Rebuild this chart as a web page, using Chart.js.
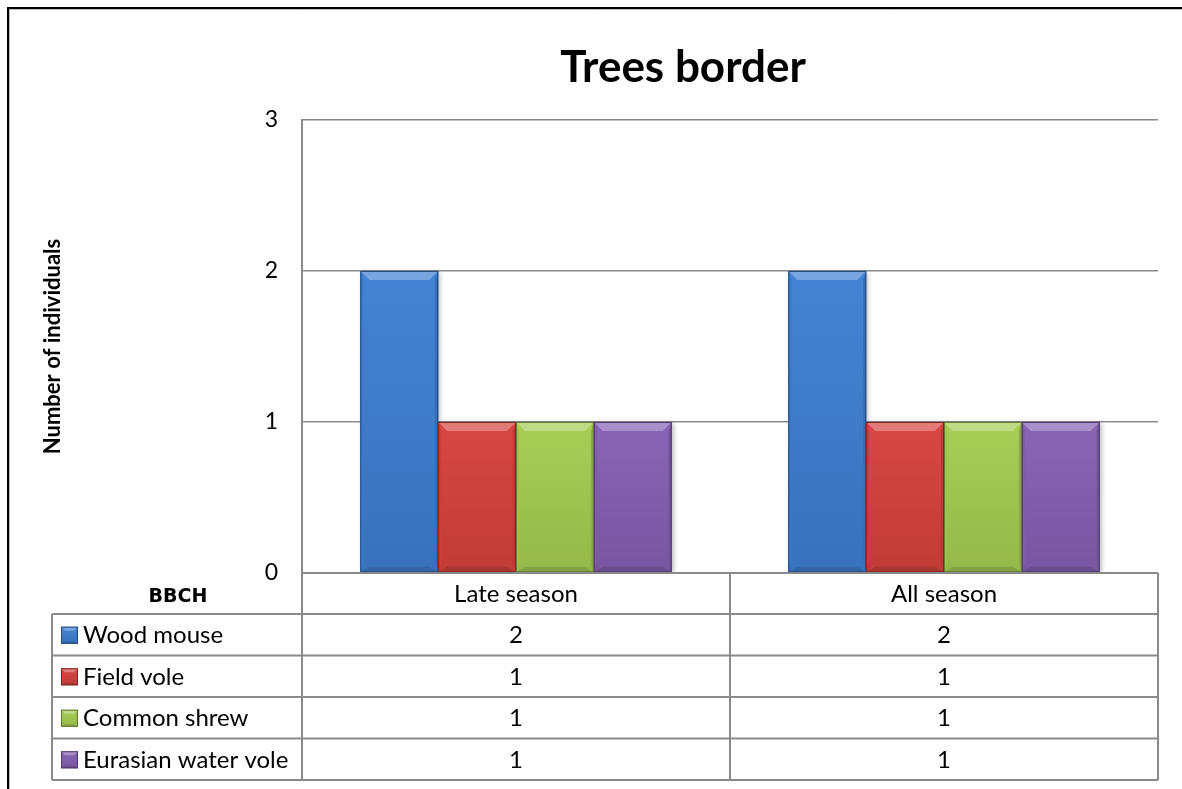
<!DOCTYPE html>
<html>
<head>
<meta charset="utf-8">
<script src="https://cdn.jsdelivr.net/npm/chart.js@4.4.0/dist/chart.umd.min.js"></script>
<style>
  html, body { margin: 0; padding: 0; background: #fff; }
  #wrap { width: 1182px; height: 789px; position: relative; }
</style>
</head>
<body>
<div id="wrap"><canvas id="barChart"></canvas></div>
<script>
const categories = ['Late season', 'All season'];
const species = ['Wood mouse', 'Field vole', 'Common shrew', 'Eurasian water vole'];
const woodMouse = [2, 2];
const fieldVole = [1, 1];
const commonShrew = [1, 1];
const waterVole = [1, 1];
const seriesValues = [woodMouse, fieldVole, commonShrew, waterVole];
const yTicks = [0, 1, 2, 3];
const seriesColors = ['#3E7FD2', '#D6423D', '#A5CC52', '#8560B3'];

const FONT = 'Lato';
const GRID = '#8a8a8a';

// mix a hex colour with white (amt > 0) or black (amt < 0)
function shade(hex, amt) {
  const n = parseInt(hex.slice(1), 16);
  let r = (n >> 16) & 255, g = (n >> 8) & 255, b = n & 255;
  const t = amt < 0 ? 0 : 255, p = Math.abs(amt);
  r = Math.round(r + (t - r) * p);
  g = Math.round(g + (t - g) * p);
  b = Math.round(b + (t - b) * p);
  return 'rgb(' + r + ',' + g + ',' + b + ')';
}

function poly(ctx, pts, fill) {
  ctx.beginPath();
  ctx.moveTo(pts[0][0], pts[0][1]);
  for (let i = 1; i < pts.length; i++) ctx.lineTo(pts[i][0], pts[i][1]);
  ctx.closePath();
  ctx.fillStyle = fill;
  ctx.fill();
}

// office style bevelled box
function bevelRect(ctx, x0, y0, x1, y1, color, b) {
  const w = x1 - x0, h = y1 - y0;
  b = Math.min(b, w / 2, h / 2);
  const g = ctx.createLinearGradient(0, y0, 0, y1);
  g.addColorStop(0, shade(color, 0.03));
  g.addColorStop(1, shade(color, -0.1));
  ctx.fillStyle = g;
  ctx.fillRect(x0, y0, w, h);
  poly(ctx, [[x0, y0], [x1, y0], [x1 - b, y0 + b], [x0 + b, y0 + b]], shade(color, 0.3));
  poly(ctx, [[x0, y0], [x0 + b / 3, y0 + b], [x0 + b / 3, y1 - b], [x0, y1]], shade(color, -0.04));
  poly(ctx, [[x1, y0], [x1 - b / 3, y0 + b], [x1 - b / 3, y1 - b], [x1, y1]], shade(color, -0.14));
  poly(ctx, [[x0, y1], [x0 + b, y1 - b * 0.6], [x1 - b, y1 - b * 0.6], [x1, y1]], shade(color, -0.2));
  ctx.strokeStyle = shade(color, -0.4);
  ctx.lineWidth = 1;
  ctx.strokeRect(x0 + 0.5, y0 + 0.5, w - 1, h - 1);
}

const framePlugin = {
  id: 'frame',
  beforeDraw(chart) {
    const ctx = chart.ctx;
    ctx.save();
    ctx.fillStyle = '#fff';
    ctx.fillRect(0, 0, chart.width, chart.height);
    ctx.strokeStyle = '#bbb';
    ctx.lineWidth = 1;
    ctx.beginPath();
    ctx.moveTo(9, 9.5); ctx.lineTo(chart.width, 9.5);
    ctx.moveTo(9.5, 9); ctx.lineTo(9.5, chart.height);
    ctx.stroke();
    ctx.strokeStyle = '#000';
    ctx.lineWidth = 2;
    ctx.beginPath();
    ctx.moveTo(7, 8); ctx.lineTo(chart.width, 8);
    ctx.moveTo(8, 7); ctx.lineTo(8, chart.height);
    ctx.stroke();
    // chart title
    ctx.fillStyle = '#000';
    ctx.font = 'bold 44px ' + FONT;
    ctx.textAlign = 'center';
    ctx.textBaseline = 'alphabetic';
    ctx.fillText('Trees border', 683, 82);
    ctx.restore();
  }
};

const bevelPlugin = {
  id: 'bevel',
  beforeDatasetsDraw(chart) {
    const ctx = chart.ctx;
    ctx.save();
    ctx.shadowColor = 'rgba(0,0,0,0.3)';
    ctx.shadowBlur = 5;
    ctx.shadowOffsetX = 2;
    ctx.shadowOffsetY = 1;
  },
  afterDatasetsDraw(chart) {
    const ctx = chart.ctx;
    ctx.restore();
    ctx.save();
    chart.data.datasets.forEach((ds, i) => {
      chart.getDatasetMeta(i).data.forEach(bar => {
        const p = bar.getProps(['x', 'y', 'width', 'base'], true);
        bevelRect(ctx, p.x - p.width / 2, p.y, p.x + p.width / 2, p.base, ds.backgroundColor, 9);
      });
    });
    ctx.restore();
  }
};

const tablePlugin = {
  id: 'dataTable',
  afterDraw(chart) {
    const { ctx, chartArea, scales } = chart;
    const x = scales.x;
    const top = chartArea.bottom;
    const headH = 41, rowH = 41.5;
    const left = 52;
    const n = chart.data.labels.length;
    const step = (chartArea.right - chartArea.left) / n;
    const rows = chart.data.datasets.length;
    const bottom = top + headH + rows * rowH;

    ctx.save();
    ctx.strokeStyle = GRID;
    ctx.lineWidth = 2;
    ctx.beginPath();
    // horizontal rules
    ctx.moveTo(chartArea.left, top); ctx.lineTo(chartArea.right, top);
    for (let r = 0; r <= rows; r++) {
      const y = top + headH + r * rowH;
      ctx.moveTo(left, y); ctx.lineTo(chartArea.right, y);
    }
    // vertical rules
    ctx.moveTo(left, top + headH); ctx.lineTo(left, bottom);
    ctx.moveTo(chartArea.left, top); ctx.lineTo(chartArea.left, bottom);
    for (let i = 0; i < n; i++) {
      const edge = x.getPixelForValue(i) + step / 2;
      ctx.moveTo(edge, top); ctx.lineTo(edge, bottom);
    }
    ctx.stroke();

    ctx.fillStyle = '#000';
    ctx.textBaseline = 'middle';
    ctx.font = 'bold 19px "DejaVu Sans"';
    ctx.textAlign = 'center';
    ctx.fillText('BBCH', 178, top + 24);

    ctx.font = '24px ' + FONT;
    chart.data.labels.forEach((lab, i) => {
      ctx.fillText(lab, x.getPixelForValue(i), top + headH / 2 + 1);
    });

    chart.data.datasets.forEach((ds, r) => {
      const cy = top + headH + r * rowH + rowH / 2;
      bevelRect(ctx, 61, cy - 8, 78, cy + 9, ds.backgroundColor, 4);
      ctx.fillStyle = '#000';
      ctx.textAlign = 'left';
      ctx.fillText(ds.label, 83, cy + 1);
      ctx.textAlign = 'center';
      ds.data.forEach((v, i) => {
        ctx.fillText(String(v), x.getPixelForValue(i), cy + 1);
      });
    });
    ctx.restore();
  }
};

function build() {
  const ctx = document.getElementById('barChart').getContext('2d');
  new Chart(ctx, {
    type: 'bar',
    data: {
      labels: categories,
      datasets: species.map((name, i) => ({
        label: name,
        data: seriesValues[i],
        backgroundColor: seriesColors[i],
        borderWidth: 0,
        categoryPercentage: 4 / 5.5,
        barPercentage: 1.0
      }))
    },
    options: {
      responsive: true,
      maintainAspectRatio: false,
      animation: false,
      layout: { padding: { left: 0, right: 24, top: 120, bottom: 216 } },
      plugins: {
        legend: { display: false },
        title: { display: false },
        tooltip: { enabled: false }
      },
      scales: {
        x: { display: false },
        y: {
          min: yTicks[0],
          max: yTicks[yTicks.length - 1],
          afterBuildTicks(scale) {
            scale.ticks = yTicks.map(v => ({ value: v }));
          },
          afterFit(scale) { scale.width = 302; },
          ticks: {
            color: '#000',
            padding: 24,
            font: { family: FONT, size: 23 }
          },
          grid: { color: GRID, lineWidth: 1.5, drawTicks: false },
          border: { color: GRID, width: 2 },
          title: {
            display: true,
            text: 'Number of individuals',
            color: '#000',
            font: { family: FONT, size: 22, weight: 'bold' },
            padding: { top: 40, bottom: 0 }
          }
        }
      }
    },
    plugins: [framePlugin, bevelPlugin, tablePlugin]
  });
}

if (document.fonts && document.fonts.load) {
  Promise.all([
    document.fonts.load('24px Lato'),
    document.fonts.load('bold 24px Lato'),
    document.fonts.load('bold 19px "DejaVu Sans"')
  ]).then(build, build);
} else {
  build();
}
</script>
</body>
</html>
